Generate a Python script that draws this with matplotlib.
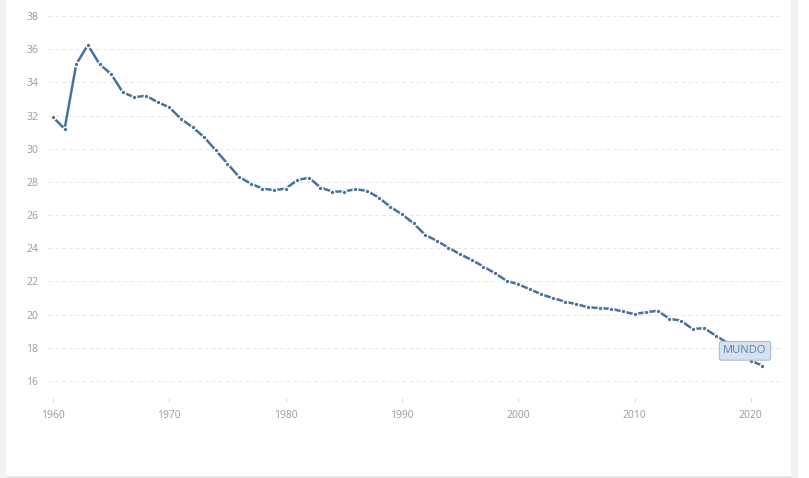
import matplotlib
matplotlib.use("Agg")
import matplotlib.pyplot as plt
from matplotlib.patches import Rectangle

years = list(range(1960, 2022))
values = [31.9, 31.2, 35.1, 36.25, 35.1, 34.5, 33.4, 33.1, 33.2, 32.8,
          32.5, 31.8, 31.3, 30.7, 29.9, 29.1, 28.3, 27.9, 27.6, 27.5,
          27.6, 28.1, 28.26, 27.66, 27.42, 27.42, 27.56, 27.46, 27.06, 26.5,
          26.05, 25.51, 24.81, 24.45, 24.04, 23.64, 23.3, 22.9, 22.5, 22.04,
          21.83, 21.53, 21.23, 20.99, 20.79, 20.63, 20.45, 20.39, 20.35, 20.19,
          20.03, 20.15, 20.23, 19.75, 19.64, 19.13, 19.19, 18.72, 18.3, 17.85,
          17.22, 16.93]
yticks = [16, 18, 20, 22, 24, 26, 28, 30, 32, 34, 36, 38]
xticks = [1960, 1970, 1980, 1990, 2000, 2010, 2020]
series_label = "MUNDO"

plt.rcParams['font.family'] = ['Open Sans', 'DejaVu Sans']

W, H = 809, 478
fig = plt.figure(figsize=(W / 100, H / 100), dpi=100)
fig.patch.set_facecolor("white")

# panel decoration
fig.patches.append(Rectangle((0, 0), 6 / W, 1, transform=fig.transFigure,
                             facecolor="#f0f2f5", edgecolor="none", zorder=0))
fig.patches.append(Rectangle((791 / W, 0), 7 / W, 1, transform=fig.transFigure,
                             facecolor="#eef0f3", edgecolor="none", zorder=0))
fig.patches.append(Rectangle((6 / W, 0), 785 / W, 2.5 / H, transform=fig.transFigure,
                             facecolor="#e6e8eb", edgecolor="none", zorder=0))

left, right, top, bottom = 48, 783, 14, 398
ax = fig.add_axes([left / W, 1 - bottom / H, (right - left) / W, (bottom - top) / H])
ax.set_facecolor("none")

ppy = 11.63
ppu = 16.6
ax.set_xlim(1960 - (53 - left) / ppy, 1960 + (right - 53) / ppy)
ax.set_ylim(16 - (bottom - 381) / ppu, 38 + (16 - top) / ppu)

ax.plot(years, values, color="#48729c", linewidth=1.8, marker="o", markersize=3.4,
        markerfacecolor="#48729c", markeredgecolor="white", markeredgewidth=1.0,
        solid_capstyle="butt", zorder=3)

ax.set_yticks(yticks)
ax.set_xticks(xticks)
ax.set_yticklabels([str(v) for v in yticks])
ax.set_xticklabels([str(v) for v in xticks])
ax.tick_params(axis="y", length=0, pad=7, labelsize=7.5, labelcolor="#9a9a9a")
ax.tick_params(axis="x", length=3, width=0.6, color="#d0d0d0", pad=6,
               labelsize=7.5, labelcolor="#9a9a9a", direction="out")
ax.yaxis.grid(True, color="#e6e6e6", linestyle=(0, (4, 3)), linewidth=0.7)
ax.xaxis.grid(False)
for s in ax.spines.values():
    s.set_visible(False)

ax.text(2019.5, 17.82, series_label, ha="center", va="center", fontsize=8,
        color="#5f82a8", zorder=5,
        bbox=dict(boxstyle="round,pad=0.35,rounding_size=0.2", facecolor="#d5e1ef",
                  edgecolor="#a8bfd8", linewidth=0.8))

fig.savefig("out.png", dpi=100)
